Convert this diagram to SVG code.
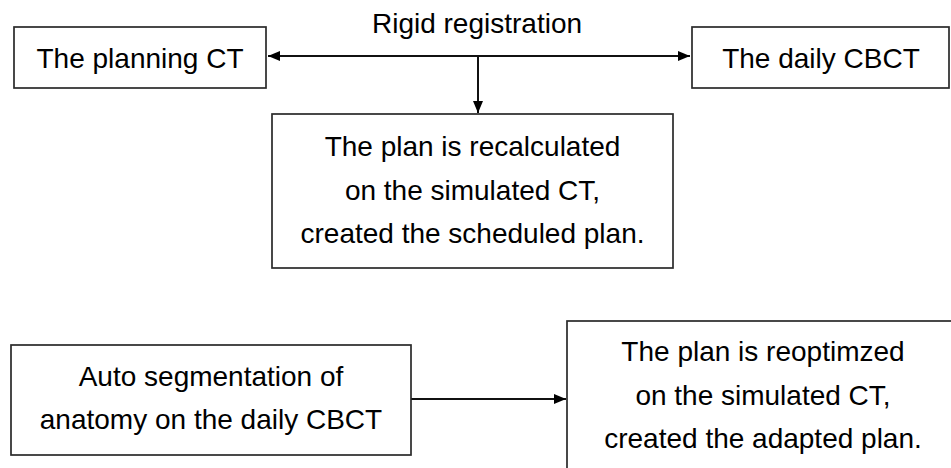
<svg xmlns="http://www.w3.org/2000/svg" width="951" height="468" viewBox="0 0 951 468">
<defs>
<style>
.box{fill:#fff;stroke:#2a2a2a;stroke-width:1.7}
.t{font-family:"Liberation Sans",Arial,sans-serif;font-size:28px;fill:#000;text-anchor:middle}
.c{stroke:#111;stroke-width:2;fill:none}
</style>
<marker id="ah" viewBox="0 0 12 10" refX="12" refY="5" markerWidth="12" markerHeight="10" markerUnits="userSpaceOnUse" orient="auto">
<path d="M0,0 L12,5 L0,10 Z" fill="#000"/>
</marker>
</defs>
<rect width="951" height="468" fill="#fff"/>
<g id="connectors">
<line class="c" x1="478" y1="56" x2="268" y2="56" marker-end="url(#ah)"/>
<line class="c" x1="478" y1="56" x2="690" y2="56" marker-end="url(#ah)"/>
<line class="c" x1="478" y1="55" x2="478" y2="113" marker-end="url(#ah)"/>
<line class="c" x1="411" y1="399" x2="566" y2="399" marker-end="url(#ah)"/>
<text class="t" x="477" y="33">Rigid registration</text>
</g>
<g id="planning-ct">
<rect class="box" x="14" y="27" width="252" height="61"/>
<text class="t" x="140" y="68">The planning CT</text>
</g>
<g id="daily-cbct">
<rect class="box" x="692" y="27" width="257" height="61"/>
<text class="t" x="821" y="68">The daily CBCT</text>
</g>
<g id="recalculated">
<rect class="box" x="272" y="114" width="401" height="154"/>
<text class="t" x="472.5" y="156">The plan is recalculated</text>
<text class="t" x="472.5" y="200">on the simulated CT,</text>
<text class="t" x="472.5" y="243">created the scheduled plan.</text>
</g>
<g id="auto-seg">
<rect class="box" x="11" y="345" width="400" height="110"/>
<text class="t" x="211" y="386">Auto segmentation of</text>
<text class="t" x="211" y="429">anatomy on the daily CBCT</text>
</g>
<g id="reoptimized">
<rect class="box" x="567" y="321" width="400" height="160"/>
<text class="t" x="763" y="361">The plan is reoptimzed</text>
<text class="t" x="763" y="405">on the simulated CT,</text>
<text class="t" x="763" y="448">created the adapted plan.</text>
</g>
</svg>
